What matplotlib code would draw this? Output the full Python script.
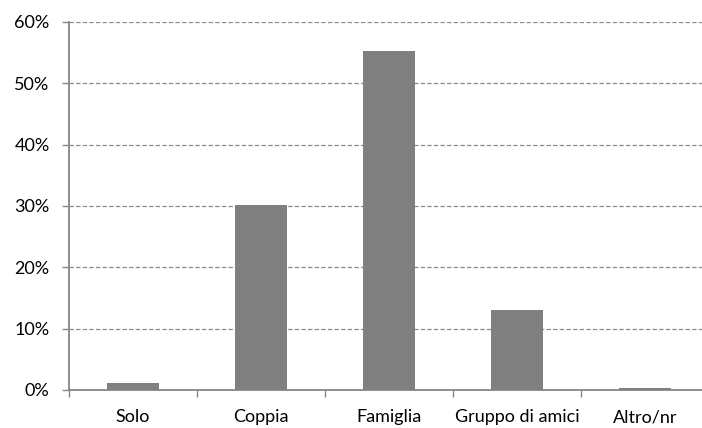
import matplotlib
matplotlib.use("Agg")
import matplotlib.pyplot as plt
from matplotlib.ticker import FuncFormatter

categories = ["Solo", "Coppia", "Famiglia", "Gruppo di amici", "Altro/nr"]
shares = [1.1, 30.1, 55.3, 13.1, 0.3]
y_ticks = [0, 10, 20, 30, 40, 50, 60]

plt.rcParams["font.family"] = ["Lato", "DejaVu Sans"]

fig = plt.figure(figsize=(7.02, 4.28), dpi=100)
ax = fig.add_axes([69 / 702, 38 / 428, 640 / 702, 368 / 428])

x = list(range(len(categories)))
ax.bar(x, shares, width=0.4, color="#808080", zorder=3)

ax.set_xlim(-0.5, len(categories) - 0.5)
ax.set_ylim(0, 60)
ax.set_yticks(y_ticks)
ax.yaxis.set_major_formatter(FuncFormatter(lambda v, _: f"{v:.0f}%"))

# category labels centred, tick marks on the boundaries between categories
ax.set_xticks(x)
ax.set_xticklabels(categories)
ax.tick_params(axis="x", which="major", length=0, pad=14, labelsize=13, colors="black")
ax.set_xticks([i + 0.5 for i in range(-1, len(categories))], minor=True)
ax.tick_params(axis="x", which="minor", length=5, width=1, color="#868686", direction="out")
ax.tick_params(axis="y", length=5, width=1, color="#868686", labelsize=13, pad=9)

ax.grid(axis="y", color="#8c8c8c", linestyle=(0, (3.5, 1.8)), linewidth=0.9, zorder=0)

for side in ("top", "right"):
    ax.spines[side].set_visible(False)
for side in ("left", "bottom"):
    ax.spines[side].set_color("#868686")
    ax.spines[side].set_linewidth(1.3)

fig.savefig("out.png", dpi=100)
